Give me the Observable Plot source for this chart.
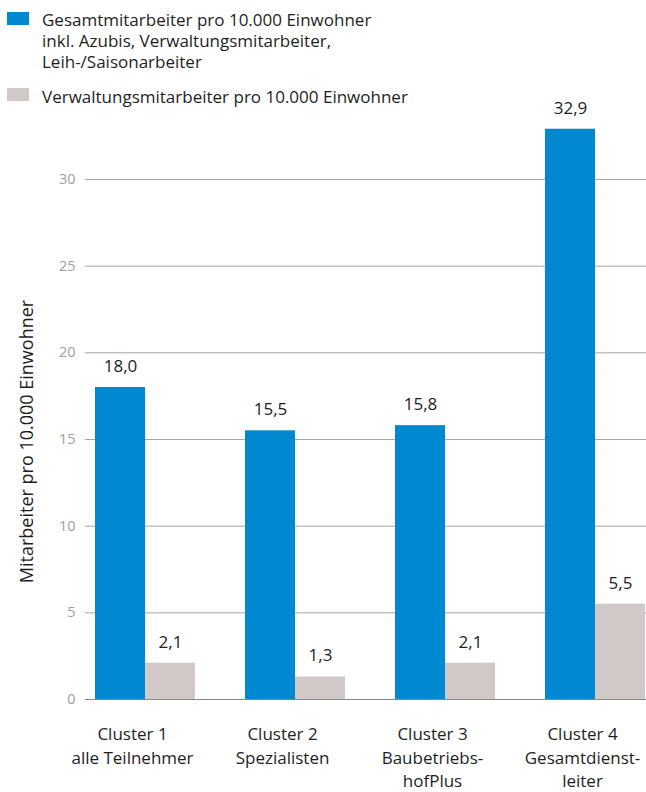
<!DOCTYPE html>
<html>
<head>
<meta charset="utf-8">
<script src="https://cdn.jsdelivr.net/npm/d3@7"></script>
<script src="https://cdn.jsdelivr.net/npm/@observablehq/plot@0.6"></script>
<style>
  html, body { margin: 0; padding: 0; background: #fff; }
  body { width: 646px; height: 792px; overflow: hidden; font-family: "Open Sans", sans-serif; color: #1e1e1e; }
  #legend { position: relative; height: 100px; z-index: 2; }
  .sw { position: absolute; left: 7px; width: 22px; height: 13px; }
  .lbl { position: absolute; left: 42px; white-space: nowrap; font-size: 17px; line-height: 21px; }
  #chart { position: relative; z-index: 1; }
  #chart svg { overflow: visible; }
</style>
</head>
<body>
<div id="legend"></div>
<div id="chart"></div>
<script>
const clusters = [
  "Cluster 1\nalle Teilnehmer",
  "Cluster 2\nSpezialisten",
  "Cluster 3\nBaubetriebs-\nhofPlus",
  "Cluster 4\nGesamtdienst-\nleiter"
];
const gesamt = [18.0, 15.5, 15.8, 32.9];
const verwaltung = [2.1, 1.3, 2.1, 5.5];
const seriesNames = [
  "Gesamtmitarbeiter pro 10.000 Einwohner\ninkl. Azubis, Verwaltungsmitarbeiter,\nLeih-/Saisonarbeiter",
  "Verwaltungsmitarbeiter pro 10.000 Einwohner"
];
const seriesColors = ["#0088d1", "#d1c9c7"];
const yTicks = [0, 5, 10, 15, 20, 25, 30];
const yLabel = "Mitarbeiter pro 10.000 Einwohner";

// legend
const legend = document.getElementById("legend");
const legendPos = [{sw: 11.5, tx: 8.5}, {sw: 88, tx: 85.5}];
seriesNames.forEach((name, i) => {
  const sw = document.createElement("div");
  sw.className = "sw";
  sw.style.top = legendPos[i].sw + "px";
  sw.style.background = seriesColors[i];
  legend.appendChild(sw);
  const t = document.createElement("div");
  t.className = "lbl";
  t.style.top = legendPos[i].tx + "px";
  t.innerHTML = name.split("\n").join("<br>");
  legend.appendChild(t);
});

const fmt = v => d3.format(".1f")(v).replace(".", ",");
const gData = clusters.map((c, i) => ({cluster: c, value: gesamt[i]}));
const vData = clusters.map((c, i) => ({cluster: c, value: verwaltung[i]}));

const chart = Plot.plot({
  width: 646,
  height: 692,
  marginLeft: 85,
  marginRight: 0,
  marginTop: 27,
  marginBottom: 93,
  style: {fontFamily: "Open Sans, sans-serif", fontSize: "16px", color: "#1e1e1e", background: "transparent", overflow: "visible"},
  x: {type: "band", domain: clusters, paddingInner: 1/3, paddingOuter: 0.0367, align: 10/11, round: false, label: null},
  y: {domain: [0, 33], label: null},
  marks: [
    Plot.gridY(yTicks.filter(d => d > 0), {stroke: "#aaa4a2", strokeOpacity: 1, strokeWidth: 1}),
    Plot.axisY({ticks: yTicks, tickSize: 0, tickPadding: 10, fontSize: 14.5, fill: "#a39d9b", label: null}),
    Plot.barY(gData, {x: "cluster", y: "value", fill: seriesColors[0], insetLeft: 0, insetRight: 50}),
    Plot.barY(vData, {x: "cluster", y: "value", fill: seriesColors[1], insetLeft: 50, insetRight: 0}),
    Plot.ruleY([0], {stroke: "#8e8886", strokeWidth: 1}),
    Plot.text(gData, {x: "cluster", y: "value", text: d => fmt(d.value), dx: -25, dy: -21, fontSize: 17, fill: "#1e1e1e"}),
    Plot.text(vData, {x: "cluster", y: "value", text: d => fmt(d.value), dx: 25, dy: -21, fontSize: 17, fill: "#1e1e1e"}),
    Plot.axisX({tickSize: 0, tickPadding: 24, dx: -13, fontSize: 17, lineHeight: 1.38, fill: "#1e1e1e", label: null}),
    Plot.text([yLabel], {frameAnchor: "left", rotate: -90, dx: -58, dy: 28, fontSize: 18, fill: "#1e1e1e", textAnchor: "middle"})
  ]
});
document.getElementById("chart").appendChild(chart);
</script>
</body>
</html>
